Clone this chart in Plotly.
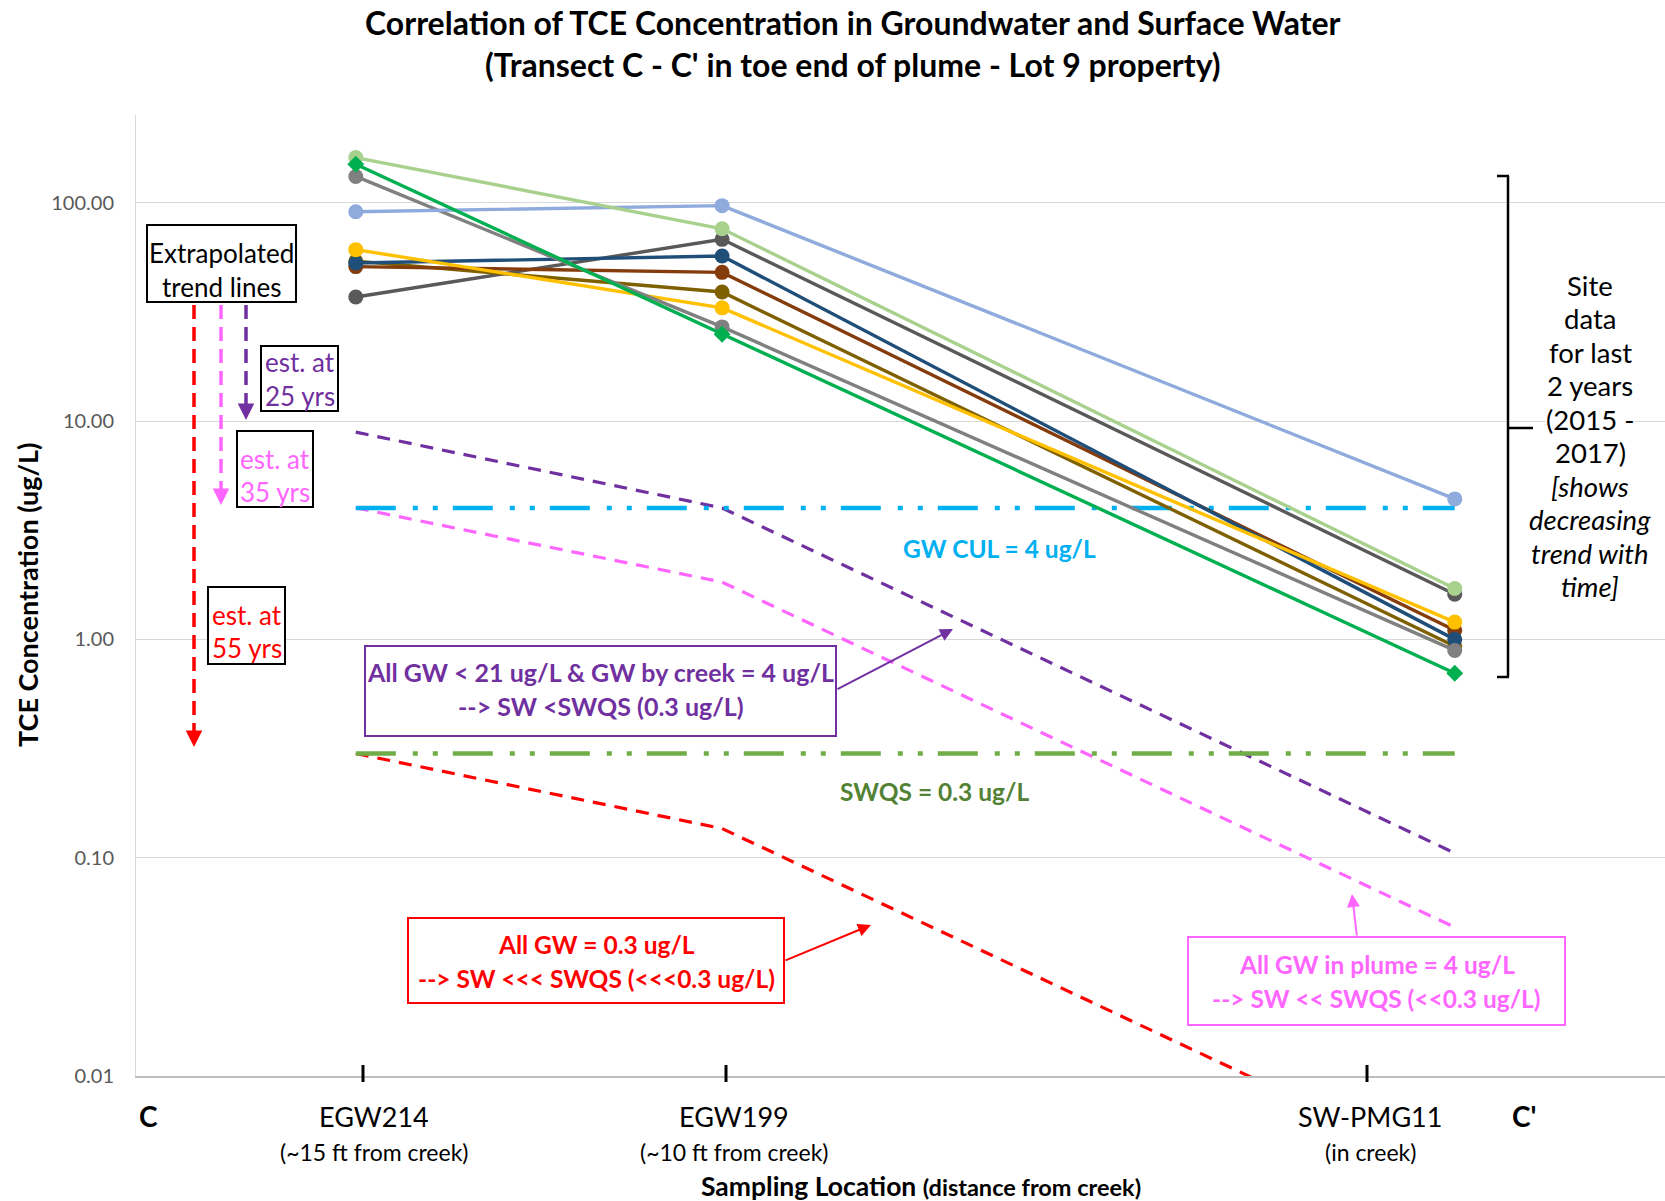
import plotly.graph_objects as go

# ---- data -------------------------------------------------------------
distance_ft = [15, 10, 0]                      # distance from creek (ft)
locations = ["EGW214", "EGW199", "SW-PMG11"]
location_notes = ["(~15 ft from creek)", "(~10 ft from creek)", "(in creek)"]

# TCE results (ug/L) at EGW214, EGW199, SW-PMG11
tce_light_blue = [91, 97, 4.4]
tce_light_green = [161, 76, 1.71]
tce_green = [150, 25, 0.70]
tce_gray = [132, 27, 0.89]
tce_yellow = [61, 33, 1.20]
tce_dark_blue = [53, 57, 1.00]
tce_brown = [51, 48, 1.10]
tce_olive = [54, 39, 0.93]
tce_dark_gray = [37, 68, 1.61]

# extrapolated trend lines (ug/L)
trend_25yr = [8.9, 4.0, 0.105]
trend_35yr = [4.0, 1.83, 0.048]
trend_55yr = [0.30, 0.136, 0.0036]

limit_x = [15, 0]
gw_cul = [4.0, 4.0]
swqs = [0.3, 0.3]

y_tick_vals = [0.01, 0.1, 1, 10, 100]
y_tick_text = ["0.01", "0.10", "1.00", "10.00", "100.00"]

# ---- layout geometry ---------------------------------------------------
W, H = 1665, 1201
ML, MR, MT, MB = 136, 0, 115, 125
PW = W - ML - MR
PH = H - MT - MB


def px(x):
    return (x - ML) / PW


def py(y):
    return (H - MB - y) / PH


FONT = "Lato"
PURPLE = "#7030A0"
PINK = "#FF66FF"
RED = "#FF0000"
CUL_BLUE = "#00B0F0"
SWQS_GREEN = "#70AD47"
SWQS_TEXT = "#548235"

fig = go.Figure()

# trend lines
for vals, col in [(trend_25yr, PURPLE), (trend_35yr, PINK), (trend_55yr, RED)]:
    fig.add_trace(go.Scatter(x=distance_ft, y=vals, mode="lines",
                             line=dict(color=col, width=3.2, dash="13px,9px"),
                             showlegend=False, hoverinfo="skip"))

# regulatory limits
limit_dash = "40px,17px,5px,15px,5px,15px"
fig.add_trace(go.Scatter(x=limit_x, y=gw_cul, mode="lines",
                         line=dict(color=CUL_BLUE, width=4.5, dash=limit_dash),
                         showlegend=False, hoverinfo="skip"))
fig.add_trace(go.Scatter(x=limit_x, y=swqs, mode="lines",
                         line=dict(color=SWQS_GREEN, width=4.5, dash=limit_dash),
                         showlegend=False, hoverinfo="skip"))

# site data series
series = [
    (tce_dark_gray, "#595959", "circle"),
    (tce_olive, "#7F6000", "circle"),
    (tce_brown, "#843C0C", "circle"),
    (tce_dark_blue, "#1F4E79", "circle"),
    (tce_yellow, "#FFC000", "circle"),
    (tce_gray, "#808080", "circle"),
    (tce_light_blue, "#8FAADC", "circle"),
    (tce_light_green, "#A9D18E", "circle"),
    (tce_green, "#00B050", "diamond"),
]
for vals, col, sym in series:
    fig.add_trace(go.Scatter(x=distance_ft, y=vals, mode="lines+markers",
                             line=dict(color=col, width=3.4),
                             marker=dict(color=col, size=15 if sym == "circle" else 13,
                                         symbol=sym),
                             showlegend=False))

annotations = []
shapes = []


def text(x, y, s, size, color="black", bold=False, italic=False, **kw):
    if bold:
        s = f"<b>{s}</b>"
    if italic:
        s = f"<i>{s}</i>"
    d = dict(x=px(x), y=py(y), xref="paper", yref="paper", text=s,
             showarrow=False, xanchor="center", yanchor="middle",
             font=dict(family=FONT, size=size, color=color))
    d.update(kw)
    annotations.append(d)


def box(lines, x0, x1, y0, y1, line_ys, color, border, size, bold=False):
    shapes.append(dict(type="rect", xref="paper", yref="paper",
                       x0=px(x0), x1=px(x1), y0=py(y0), y1=py(y1),
                       line=dict(color=border, width=2), fillcolor="white",
                       layer="above"))
    cx = (x0 + x1) / 2
    for s, ly in zip(lines, line_ys):
        text(cx, ly, s, size, color=color, bold=bold)


def arrow(hx, hy, tx, ty, color, width=2, size=1.3):
    annotations.append(dict(
        x=px(hx), y=py(hy), xref="paper", yref="paper", text="",
        showarrow=True, ax=tx - hx, ay=ty - hy, axref="pixel", ayref="pixel",
        arrowhead=2, arrowsize=size, arrowwidth=width, arrowcolor=color,
        standoff=0, startstandoff=0))


def seg(x0, y0, x1, y1, color, width, dash="solid"):
    shapes.append(dict(type="line", xref="paper", yref="paper",
                       x0=px(x0), y0=py(y0), x1=px(x1), y1=py(y1),
                       line=dict(color=color, width=width, dash=dash)))


# title
text(853, 22, "Correlation of TCE Concentration in Groundwater and Surface Water", 32, bold=True)
text(853, 64, "(Transect C - C' in toe end of plume - Lot 9 property)", 32, bold=True)

# axis titles and location labels
text(27, 595, "TCE Concentration (ug/L)", 27, bold=True, textangle=-90)
text(148, 1116, "C", 28, bold=True)
text(1524, 1116, "C'", 28, bold=True)
for name, note, cx in zip(locations, location_notes, [374, 734, 1370]):
    text(cx, 1116, name, 27)
    text(cx, 1152, note, 23)
text(921, 1186, "Sampling Location <span style='font-size:23.5px'>(distance from creek)</span>",
     26.5, bold=True)

# labels for limit lines
text(999, 548, "GW CUL = 4 ug/L", 24.5, color=CUL_BLUE, bold=True)
text(934, 791, "SWQS = 0.3 ug/L", 24.5, color=SWQS_TEXT, bold=True)

# dashed "years" arrows from the trend-line label
seg(194, 305, 194, 737, RED, 3.5, "14px,8px")
seg(221, 305, 221, 495, PINK, 3.5, "14px,8px")
seg(246, 305, 246, 410, PURPLE, 3.5, "14px,8px")
for hx, hy, col in [(194, 747, RED), (221, 505, PINK), (246, 420, PURPLE)]:
    arrow(hx, hy, hx, hy - 12, col, width=3, size=1.1)

# callout boxes
box(["Extrapolated", "trend lines"], 147, 296, 225, 302, [253, 287], "black", "black", 26)
box(["est. at", "25 yrs"], 261, 338, 346, 411, [362, 396], PURPLE, "black", 26)
box(["est. at", "35 yrs"], 237, 313, 431, 507, [459, 492], PINK, "black", 26)
box(["est. at", "55 yrs"], 208, 285, 587, 664, [615, 648], RED, "black", 26)
box(["All GW &lt; 21 ug/L &amp; GW by creek = 4 ug/L", "--&gt; SW &lt;SWQS (0.3 ug/L)"],
    365, 836, 646, 736, [672, 706], PURPLE, PURPLE, 25, bold=True)
box(["All GW = 0.3 ug/L", "--&gt; SW &lt;&lt;&lt; SWQS (&lt;&lt;&lt;0.3 ug/L)"],
    408, 784, 918, 1003, [944, 978], RED, RED, 24.5, bold=True)
box(["All GW in plume = 4 ug/L", "--&gt; SW &lt;&lt; SWQS (&lt;&lt;0.3 ug/L)"],
    1188, 1565, 937, 1025, [964, 998], PINK, PINK, 24.5, bold=True)

# callout arrows
arrow(953, 629, 836, 690, PURPLE)
arrow(871, 925, 784, 961, RED)
arrow(1352, 894, 1357, 937, PINK)

# bracket note
site_lines = ["Site", "data", "for last", "2 years", "(2015 -", "2017)"]
note_lines = ["[shows", "decreasing", "trend with", "time]"]
for i, s in enumerate(site_lines + note_lines):
    text(1590, 285 + i * 33.5, s, 27.5, italic=(i >= len(site_lines)),
         bgcolor="white", borderpad=0)

# location tick marks on the x axis
for tx in [363, 726, 1367]:
    seg(tx, 1065, tx, 1082, "black", 3)

# bracket
seg(1497, 176, 1509, 176, "black", 2.5)
seg(1508, 176, 1508, 677, "black", 2.5)
seg(1497, 677, 1509, 677, "black", 2.5)
seg(1508, 428, 1533, 428, "black", 2.5)

fig.update_layout(
    width=W, height=H,
    margin=dict(l=ML, r=MR, t=MT, b=MB),
    paper_bgcolor="white", plot_bgcolor="white",
    showlegend=False,
    annotations=annotations,
    shapes=shapes,
    xaxis=dict(range=[18.0, -2.87], showgrid=False, zeroline=False,
               showticklabels=False, ticks="",
               showline=True, linecolor="#BFBFBF", linewidth=1.5),
    yaxis=dict(type="log", range=[-2, 2.402],
               tickvals=y_tick_vals, ticktext=y_tick_text,
               tickfont=dict(family=FONT, size=20, color="#595959"),
               ticks="outside", ticklen=17, tickcolor="rgba(0,0,0,0)",
               showgrid=True, gridcolor="#D9D9D9", gridwidth=1,
               showline=True, linecolor="#D9D9D9", linewidth=1,
               zeroline=False),
)

fig.write_html("out.html")
